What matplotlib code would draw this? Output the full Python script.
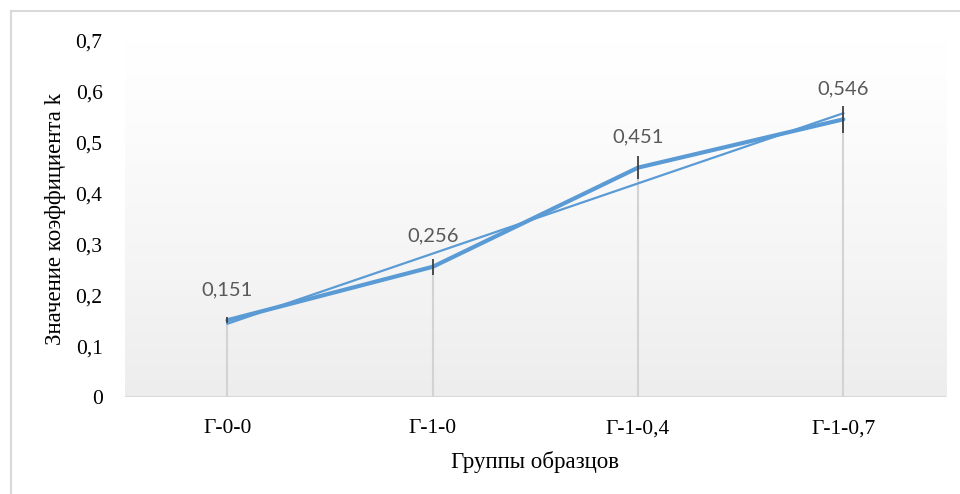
import numpy as np
import matplotlib
matplotlib.use("Agg")
import matplotlib.pyplot as plt
from matplotlib.lines import Line2D

categories = ["Г-0-0", "Г-1-0", "Г-1-0,4", "Г-1-0,7"]
values = [0.151, 0.256, 0.451, 0.546]
errors = [0.006, 0.016, 0.022, 0.027]
labels = ["0,151", "0,256", "0,451", "0,546"]
yticks = [0, 0.1, 0.2, 0.3, 0.4, 0.5, 0.6, 0.7]
ytick_labels = ["0", "0,1", "0,2", "0,3", "0,4", "0,5", "0,6", "0,7"]

fig = plt.figure(figsize=(9.6, 4.94), dpi=100)
ax = fig.add_axes([0.130, 0.1964, 0.8554, 0.7206])

x = np.arange(len(categories)) + 0.5
ax.set_xlim(0, 4)
ax.set_ylim(0, 0.7)

# gradient background
grad = np.linspace(0.0, 1.0, 256) ** 1.2
top = np.array([1.0, 1.0, 1.0])
bot = np.array([0.93, 0.93, 0.93])
img = (top[None, :] * (1 - grad[:, None]) + bot[None, :] * grad[:, None])[:, None, :]
ax.imshow(img, extent=[0, 4, 0, 0.7], aspect="auto", origin="upper", zorder=0)

for s in ax.spines.values():
    s.set_visible(False)
ax.axhline(0, color="#d9d9d9", lw=1.5, zorder=1)

# drop lines
ax.vlines(x, 0, values, color="#d3d3d3", lw=1.5, zorder=1)

# trend line
k, b = np.polyfit(np.arange(1, 5), values, 1)
ax.plot(x, k * np.arange(1, 5) + b, color="#5b9bd5", lw=1.6, zorder=2)

# main line
ax.plot(x, values, color="#5b9bd5", lw=3.0, zorder=3, solid_capstyle="round")
ax.errorbar(x, values, yerr=errors, fmt="none", ecolor="#404040", elinewidth=1.3, capsize=0, zorder=4)

for xi, v, lab in zip(x, values, labels):
    ax.annotate(lab, (xi, v), xytext=(0, 22), textcoords="offset points",
                ha="center", va="center", fontsize=14.5, color="#595959", family="Lato")

ax.set_xticks(x)
ax.set_xticklabels(categories, fontsize=15.5, family="Liberation Serif")
ax.set_yticks(yticks)
ax.set_yticklabels(ytick_labels, fontsize=15.5, family="Liberation Serif")
ax.tick_params(axis="both", length=0)
ax.tick_params(axis="y", pad=16)
ax.tick_params(axis="x", pad=16)
ax.set_xlabel("Группы образцов", fontsize=16.5, family="Liberation Serif", labelpad=9)
ax.set_ylabel("Значение коэффициента k", fontsize=16.5, family="Liberation Serif", labelpad=7)

# chart border (left and top visible)
fig.add_artist(Line2D([10.5 / 960, 10.5 / 960], [0, 1 - 11 / 494], color="#d9d9d9", lw=1.5, transform=fig.transFigure))
fig.add_artist(Line2D([10.5 / 960, 1], [1 - 11 / 494, 1 - 11 / 494], color="#d9d9d9", lw=1.5, transform=fig.transFigure))

fig.savefig("out.png", dpi=100)
